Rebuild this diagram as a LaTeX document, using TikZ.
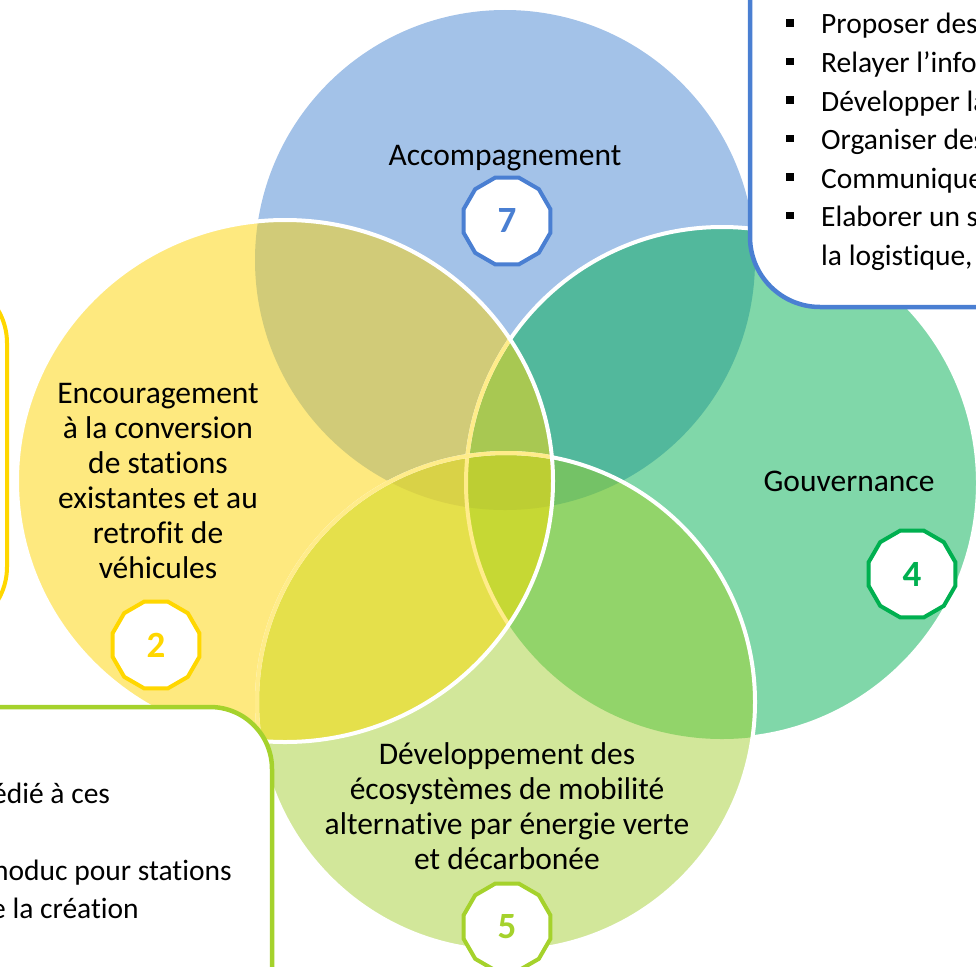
\documentclass[tikz,border=0pt]{standalone}
\usepackage{fontspec}
\setmainfont{Carlito}[Ligatures=NoCommon,RawFeature={-liga;-dlig;-clig}]
\usetikzlibrary{shapes.geometric}
\definecolor{cB}{HTML}{A3C2E8}
\definecolor{cY}{HTML}{FEE97F}
\definecolor{cG}{HTML}{80D7A9}
\definecolor{cL}{HTML}{D2E79A}
\definecolor{cBY}{HTML}{D1CB78}
\definecolor{cBG}{HTML}{52B89C}
\definecolor{cYG}{HTML}{A8C852}
\definecolor{cYL}{HTML}{E5E04B}
\definecolor{cGL}{HTML}{92D46A}
\definecolor{cBYG}{HTML}{A8C852}
\definecolor{cBYL}{HTML}{D9D247}
\definecolor{cBGL}{HTML}{74C266}
\definecolor{cYGL}{HTML}{C6D834}
\definecolor{cBYGL}{HTML}{BDCE33}
\definecolor{paleY}{HTML}{FFEC8A}
\definecolor{lineBlue}{HTML}{4A7FD2}
\definecolor{lineYellow}{HTML}{FFD700}
\definecolor{lineGreen}{HTML}{00B050}
\definecolor{lineLime}{HTML}{A5D22C}
\newcommand\pairfill[3]{\begin{scope}\clip #1;\fill[#3] #2;\end{scope}}
\newcommand\triplefill[4]{\begin{scope}\clip #1;\clip #2;\fill[#4] #3;\end{scope}}
\newcommand\quadfill{\begin{scope}\clip \pB;\clip \pY;\clip \pG;\fill[cBYGL] \pL;\end{scope}}
\begin{document}
\begin{tikzpicture}[x=1pt,y=-1pt,
  circtext/.style={font=\fontsize{31.5}{35}\selectfont, align=center, inner sep=0pt, text=black},
  boxtext/.style={font=\fontsize{29.5}{38.5}\selectfont, anchor=base west, inner sep=0pt, text=black},
  bul/.style={rectangle, fill=black, minimum size=7.5pt, inner sep=0pt},
  badge/.style={regular polygon, regular polygon sides=12, minimum size=90pt, inner sep=0pt,
    fill=white, line width=4pt, font=\bfseries\fontsize{37}{37}\selectfont},
  outl/.style={line width=4pt}]
\useasboundingbox (0,0) rectangle (976,966);
\clip (0,0) rectangle (976,966);
\def\pB{(505,260) circle[radius=250pt]}
\def\pG{(722,483) circle[radius=256pt]}
\def\pL{(506,702) circle[radius=249pt]}
\def\pY{(285,481) ellipse[x radius=268pt, y radius=261pt]}
% fills
\fill[cB] \pB;
\fill[cG] \pG;
\fill[cL] \pL;
\fill[cY] \pY;
\pairfill{\pB}{\pY}{cBY}
\pairfill{\pB}{\pG}{cBG}
\pairfill{\pY}{\pG}{cYG}
\pairfill{\pY}{\pL}{cYL}
\pairfill{\pG}{\pL}{cGL}
\triplefill{\pB}{\pY}{\pG}{cBYG}
\triplefill{\pB}{\pY}{\pL}{cBYL}
\triplefill{\pB}{\pG}{\pL}{cBGL}
\triplefill{\pY}{\pG}{\pL}{cYGL}
\quadfill
% green outline, hidden inside the bottom circle
\draw[white, outl] \pG;
\fill[cL] \pL;
\pairfill{\pY}{\pL}{cYL}
\pairfill{\pG}{\pL}{cGL}
\triplefill{\pB}{\pY}{\pL}{cBYL}
\triplefill{\pB}{\pG}{\pL}{cBGL}
\triplefill{\pY}{\pG}{\pL}{cYGL}
\quadfill
\begin{scope}\clip \pY; \draw[paleY, outl] \pG; \end{scope}
\draw[white, outl] \pL;
\begin{scope}\clip \pY; \draw[paleY, outl] \pL; \end{scope}
\draw[white, outl] \pY;
% boxes
\draw[lineYellow, fill=white, line width=4pt, rounded corners=65pt] (-100,278) rectangle (7,632);
\draw[lineBlue, fill=white, line width=4.5pt, rounded corners=70pt] (750,-100) rectangle (1100,307);
\draw[lineLime, fill=white, line width=4.5pt, rounded corners=62pt] (-100,707) rectangle (272,1100);
% circle texts
\node[circtext] (tAcc) at (505,158) {Accompagnement};
\node[circtext] (tEnc) at (158,481) {Encouragement\\à la conversion\\de stations\\existantes et au\\retrofit de\\véhicules};
\node[circtext] (tGouv) at (849,481) {Gouvernance};
\node[circtext] (tDev) at (507,806) {Développement des\\écosystèmes de mobilité\\alternative par énergie verte\\et décarbonée};
% top-right box text
\node[bul] (b1) at (790,23) {};
\node[bul] (b2) at (790,61.5) {};
\node[bul] (b3) at (790,100) {};
\node[bul] (b4) at (790,138.5) {};
\node[bul] (b5) at (790,177) {};
\node[bul] (b6) at (790,215.5) {};
\node[boxtext] (r1) at (821,34) {Proposer des};
\node[boxtext] (r2) at (821,72.5) {Relayer l’info};
\node[boxtext] (r3) at (821,111) {Développer la};
\node[boxtext] (r4) at (821,149.5) {Organiser des};
\node[boxtext] (r5) at (821,188) {Communique};
\node[boxtext] (r6) at (821,226.5) {Elaborer un s};
\node[boxtext] (r7) at (821,265) {la logistique,};
% bottom-left box text
\node[boxtext] (l1) at (-8,803) {édié à ces};
\node[boxtext] (l2) at (-7,880) {noduc pour stations};
\node[boxtext] (l3) at (-9,918) {e la création};
% badges
\node[badge, draw=lineBlue, text=lineBlue] (n7) at (507,221) {7};
\node[badge, draw=lineYellow, text=lineYellow] (n2) at (156,645) {2};
\node[badge, draw=lineGreen, text=lineGreen] (n4) at (912,574) {4};
\node[badge, draw=lineLime, text=lineLime] (n5) at (507,927) {5};
\end{tikzpicture}
\end{document}
